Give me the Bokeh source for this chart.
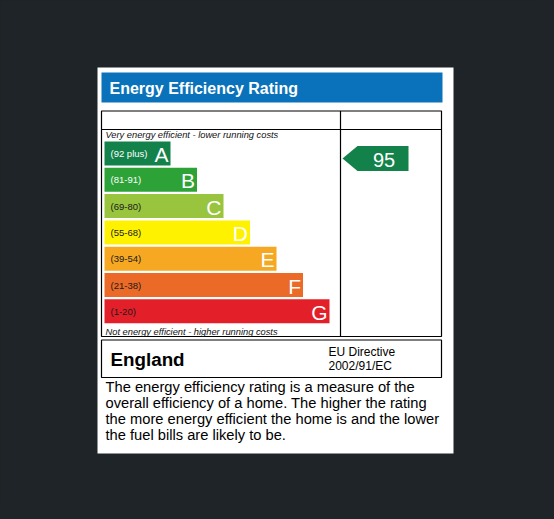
from bokeh.models import ColumnDataSource, Range1d
from bokeh.plotting import figure
from bokeh.core.properties import value
from bokeh.embed import file_html
from bokeh.resources import INLINE

# ---- data ----
bands = ["A", "B", "C", "D", "E", "F", "G"]
ranges = ["(92 plus)", "(81-91)", "(69-80)", "(55-68)", "(39-54)", "(21-38)", "(1-20)"]
band_colors = ["#12824a", "#2ca237", "#98c43e", "#fff200", "#f6a823", "#eb6a27", "#e31f2a"]
range_text_colors = ["white", "white", "#1a1a1a", "#1a1a1a", "#1a1a1a", "#1a1a1a", "#1a1a1a"]
current_rating = 95
current_band = "A"
title = "Energy Efficiency Rating"
top_note = "Very energy efficient - lower running costs"
bottom_note = "Not energy efficient - higher running costs"
country = "England"
directive = ["EU Directive", "2002/91/EC"]
description = [
    "The energy efficiency rating is a measure of the",
    "overall efficiency of a home. The higher the rating",
    "the more energy efficient the home is and the lower",
    "the fuel bills are likely to be.",
]

FONT = value("Liberation Sans")
BG = "#1e2427"

# ---- layout (page pixels, y downward) ----
bar_left = 104
bar_top0 = 141
bar_pitch = 26.3
bar_h = 24
bar_w0 = 66
bar_step = 26.5

p = figure(width=538, height=503, x_range=Range1d(0, 538), y_range=Range1d(503, 0),
           toolbar_location=None, output_backend="svg", min_border=0)
p.axis.visible = False
p.grid.visible = False
p.outline_line_color = None
p.background_fill_color = BG
p.border_fill_color = BG

# white card
p.quad(left=[97], right=[453], top=[67], bottom=[453], fill_color="white", line_color=None)

# blue title bar
p.quad(left=[101], right=[442], top=[72], bottom=[102], fill_color="#0a72ba", line_color=None)
p.text(x=[109], y=[87.5], text=[title], text_color="white", text_font=FONT,
       text_font_size="16px", text_font_style="bold", text_baseline="middle")

# table frame
p.quad(left=[101], right=[441], top=[110.5], bottom=[336], fill_color=None,
       line_color="black", line_width=1.2)
p.segment(x0=[101, 340], y0=[129, 110.5], x1=[441, 340], y1=[129, 336],
          line_color="black", line_width=1.2)

# bands
n = len(bands)
tops = [bar_top0 + bar_pitch * i for i in range(n)]
rights = [bar_left + bar_w0 + bar_step * i for i in range(n)]
src = ColumnDataSource(dict(
    band=bands, rng=ranges, color=band_colors, tcol=range_text_colors,
    left=[bar_left] * n, right=rights, top=tops, bottom=[t + bar_h for t in tops],
    mid=[t + bar_h / 2 for t in tops], lx=[bar_left + 6] * n, bx=[r - 2 for r in rights],
))
p.quad(left="left", right="right", top="top", bottom="bottom", fill_color="color",
       line_color=None, source=src)
p.text(x="lx", y="mid", text="rng", text_color="tcol", text_font=FONT,
       text_font_size="9.5px", text_baseline="middle", source=src)
p.text(x="bx", y="mid", text="band", text_color="white", text_font=FONT,
       text_font_size="21px", text_align="right", text_baseline="middle",
       y_offset=1, source=src)

p.text(x=[105], y=[134], text=[top_note], text_font=FONT, text_font_size="9.3px",
       text_font_style="italic", text_baseline="middle", text_color="#111111")
p.text(x=[105], y=[331], text=[bottom_note], text_font=FONT, text_font_size="9.3px",
       text_font_style="italic", text_baseline="middle", text_color="#111111")

# current rating arrow
i = bands.index(current_band)
ay = tops[i] + bar_h / 2 + 5
ax0, ax1, ah = 342, 408, 12.5
p.patch(x=[ax0, ax0 + 15, ax1, ax1, ax0 + 15], y=[ay, ay - ah, ay - ah, ay + ah, ay + ah],
        fill_color=band_colors[i], line_color=None)
p.text(x=[(ax0 + 15 + ax1) / 2 + 1], y=[ay + 1], text=[str(current_rating)], text_color="white",
       text_font=FONT, text_font_size="20px", text_align="center", text_baseline="middle")

# bottom box
p.quad(left=[101], right=[441], top=[339.5], bottom=[377], fill_color=None,
       line_color="black", line_width=1.2)
p.text(x=[110], y=[358.5], text=[country], text_font=FONT, text_font_size="18.8px",
       text_font_style="bold", text_baseline="middle", text_color="black")
p.text(x=[328, 328], y=[351.5, 365], text=directive, text_font=FONT,
       text_font_size="12px", text_baseline="middle", text_color="black")

# description
p.text(x=[105] * len(description), y=[386 + 16.2 * k for k in range(len(description))],
       text=description, text_font=FONT, text_font_size="14.7px",
       text_baseline="middle", text_color="black")

html = file_html(p, INLINE)
html = html.replace("<head>", "<head><style>body{background:%s;}</style>" % BG, 1)
open("out.html", "w").write(html)
